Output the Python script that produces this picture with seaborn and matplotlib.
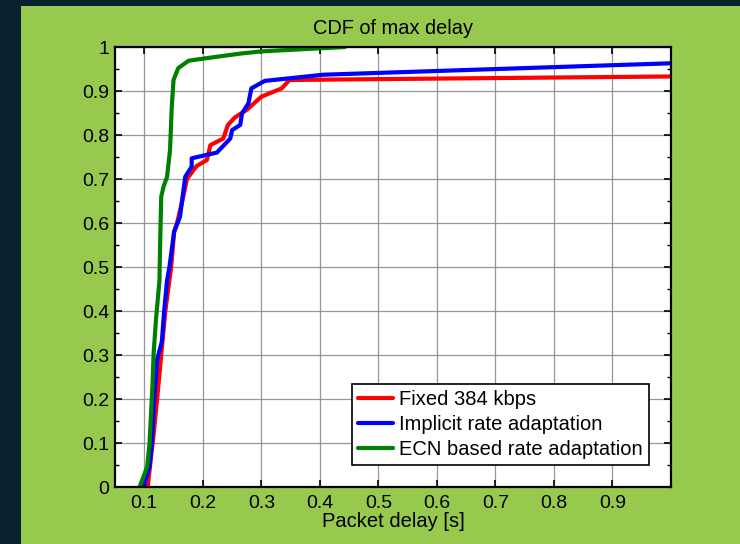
import matplotlib
matplotlib.use("Agg")
import matplotlib.pyplot as plt
import seaborn as sns
import pandas as pd
from matplotlib.patches import Rectangle
from matplotlib.ticker import MultipleLocator

# ---- data ----
fixed_x = [0.106, 0.110, 0.116, 0.122, 0.129, 0.136, 0.146, 0.151, 0.156, 0.165, 0.173, 0.184,
           0.190, 0.207, 0.213, 0.235, 0.243, 0.255, 0.275, 0.300, 0.335, 0.348, 0.500, 1.000]
fixed_y = [0.000, 0.050, 0.120, 0.200, 0.300, 0.400, 0.500, 0.580, 0.600, 0.650, 0.700, 0.720,
           0.730, 0.743, 0.777, 0.792, 0.823, 0.840, 0.857, 0.887, 0.906, 0.925, 0.927, 0.933]

impl_x = [0.099, 0.109, 0.113, 0.117, 0.122, 0.124, 0.130, 0.134, 0.139, 0.143, 0.151, 0.161,
          0.170, 0.181, 0.181, 0.224, 0.247, 0.250, 0.264, 0.267, 0.278, 0.283, 0.306, 0.406, 1.000]
impl_y = [0.000, 0.046, 0.100, 0.200, 0.290, 0.300, 0.330, 0.400, 0.470, 0.500, 0.580, 0.614,
          0.705, 0.728, 0.747, 0.760, 0.792, 0.811, 0.823, 0.849, 0.872, 0.906, 0.923, 0.937, 0.963]

ecn_x = [0.092, 0.105, 0.109, 0.113, 0.114, 0.116, 0.120, 0.126, 0.127, 0.129, 0.133, 0.139,
         0.144, 0.147, 0.150, 0.158, 0.176, 0.264, 0.300, 0.400, 0.443]
ecn_y = [0.000, 0.046, 0.099, 0.205, 0.230, 0.304, 0.380, 0.470, 0.546, 0.660, 0.683, 0.705,
         0.766, 0.864, 0.925, 0.952, 0.969, 0.985, 0.990, 0.997, 1.000]

series_names = ["Fixed 384 kbps", "Implicit rate adaptation", "ECN based rate adaptation"]
series_colors = ["#ff0000", "#0000ff", "#008000"]
x_ticks = [0.1, 0.2, 0.3, 0.4, 0.5, 0.6, 0.7, 0.8, 0.9]
x_tick_labels = ["0.1", "0.2", "0.3", "0.4", "0.5", "0.6", "0.7", "0.8", "0.9"]
y_ticks = [0, 0.1, 0.2, 0.3, 0.4, 0.5, 0.6, 0.7, 0.8, 0.9, 1]
y_tick_labels = ["0", "0.1", "0.2", "0.3", "0.4", "0.5", "0.6", "0.7", "0.8", "0.9", "1"]

rows = []
for name, xs, ys in zip(series_names, [fixed_x, impl_x, ecn_x], [fixed_y, impl_y, ecn_y]):
    for i, (x, y) in enumerate(zip(xs, ys)):
        rows.append({"series": name, "order": i, "x": x, "y": y})
df = pd.DataFrame(rows)

sns.set_style("white")
plt.rcParams["font.family"] = ["Liberation Sans", "DejaVu Sans"]
plt.rcParams["text.color"] = "black"

fig = plt.figure(figsize=(7.4, 5.44), dpi=100)
fig.patch.set_facecolor("#08232f")
bg = Rectangle((21 / 740, 0), 1 - 21 / 740, 1 - 6 / 544,
               transform=fig.transFigure, facecolor="#98c94f",
               edgecolor="none", zorder=-10)
fig.add_artist(bg)

ax = fig.add_axes([115 / 740, 1 - 487 / 544, 556 / 740, 440 / 544])
ax.set_zorder(1)
ax.set_facecolor("white")

sns.lineplot(data=df, x="x", y="y", hue="series", hue_order=series_names,
             palette=dict(zip(series_names, series_colors)), sort=False,
             estimator=None, linewidth=3.0, ax=ax, legend=True)

ax.set_xlim(0.05, 1.0)
ax.set_ylim(0, 1)
ax.set_xticks(x_ticks)
ax.set_xticklabels(x_tick_labels)
ax.set_yticks(y_ticks)
ax.set_yticklabels(y_tick_labels)
ax.yaxis.set_minor_locator(MultipleLocator(0.05))

ax.grid(True, which="major", color="#8c8c8c", linewidth=0.9, alpha=0.9)
ax.set_axisbelow(True)
ax.tick_params(which="both", direction="in", top=True, right=True, bottom=True, left=True,
               labelsize=14, colors="black")
ax.tick_params(axis="y", pad=4)
ax.tick_params(axis="x", pad=6)
ax.tick_params(which="major", length=5, width=1.2)
ax.tick_params(which="minor", length=3, width=1.0)
for s in ax.spines.values():
    s.set_visible(True)
    s.set_color("black")
    s.set_linewidth(1.6)

ax.set_title("CDF of max delay", fontsize=14.4, pad=9, color="black")
ax.set_xlabel("Packet delay [s]", fontsize=14.5, labelpad=0, color="black")
ax.set_ylabel("")

leg = ax.legend(loc="lower right", fontsize=14.5, frameon=True, fancybox=False,
                edgecolor="black", framealpha=1, handlelength=1.75, handletextpad=0.3,
                borderpad=0.3, labelspacing=0.3, borderaxespad=1.1)
leg.get_frame().set_linewidth(1.2)
for line in leg.get_lines():
    line.set_linewidth(3.0)
for t in leg.get_texts():
    t.set_color("black")

fig.savefig("out.png", dpi=100, facecolor=fig.get_facecolor())
